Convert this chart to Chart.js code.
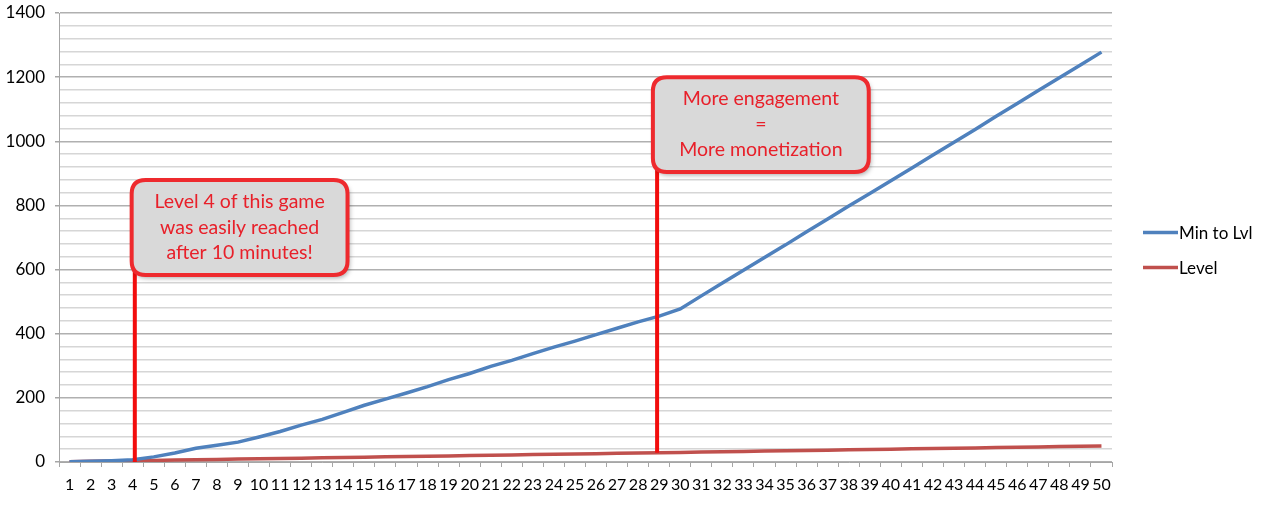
<!DOCTYPE html>
<html>
<head>
<meta charset="utf-8">
<script src="https://cdn.jsdelivr.net/npm/chart.js@4"></script>
<style>
  html, body { margin: 0; padding: 0; background: #fff; }
  #wrap { width: 1263px; height: 505px; }
</style>
</head>
<body>
<div id="wrap"><canvas id="chart"></canvas></div>
<script>
const categories = ['1','2','3','4','5','6','7','8','9','10','11','12','13','14','15','16','17','18','19','20',
  '21','22','23','24','25','26','27','28','29','30','31','32','33','34','35','36','37','38','39','40',
  '41','42','43','44','45','46','47','48','49','50'];

const minToLvl = [1, 2, 4, 7, 16, 28, 43, 52, 62, 78, 95, 115, 133, 155, 177, 196, 215, 235, 257, 276,
  298, 317, 338, 358, 377, 397, 417, 437, 455, 477, 518, 558, 598, 638, 677, 718, 758, 798, 837, 877,
  917, 957, 997, 1037, 1078, 1118, 1158, 1198, 1238, 1278];

const level = [1, 2, 3, 4, 5, 6, 7, 8, 9, 10, 11, 12, 13, 14, 15, 16, 17, 18, 19, 20,
  21, 22, 23, 24, 25, 26, 27, 28, 29, 30, 31, 32, 33, 34, 35, 36, 37, 38, 39, 40,
  41, 42, 43, 44, 45, 46, 47, 48, 49, 50];

const seriesNames = ['Min to Lvl', 'Level'];
const seriesColors = ['#4f81bd', '#c0504d'];

// callouts: vertical marker at a category, box in data units
const note1Text = ['Level 4 of this game', 'was easily reached', 'after 10 minutes!'];
const note2Text = ['More engagement', '=', 'More monetization'];
const notes = [
  { cat: 3.1, lineTo: 0, x0: 2.95, x1: 13.2, y0: 879, y1: 583, text: note1Text },
  { cat: 27.9, lineTo: 29, x0: 27.7, x1: 37.95, y0: 1200, y1: 904, text: note2Text }
];

const FONT = 'Lato, "Open Sans", sans-serif';

function rr(ctx, x, y, w, h, r) {
  ctx.beginPath();
  ctx.moveTo(x + r, y);
  ctx.lineTo(x + w - r, y);
  ctx.quadraticCurveTo(x + w, y, x + w, y + r);
  ctx.lineTo(x + w, y + h - r);
  ctx.quadraticCurveTo(x + w, y + h, x + w - r, y + h);
  ctx.lineTo(x + r, y + h);
  ctx.quadraticCurveTo(x, y + h, x, y + h - r);
  ctx.lineTo(x, y + r);
  ctx.quadraticCurveTo(x, y, x + r, y);
  ctx.closePath();
}

const calloutPlugin = {
  id: 'callouts',
  afterDatasetsDraw(chart) {
    const ctx = chart.ctx;
    const xs = chart.scales.x, ys = chart.scales.y;
    ctx.save();
    notes.forEach(n => {
      const lx = xs.getPixelForValue(n.cat);
      const bx0 = xs.getPixelForValue(n.x0), bx1 = xs.getPixelForValue(n.x1);
      const by0 = ys.getPixelForValue(n.y0), by1 = ys.getPixelForValue(n.y1);
      // marker line
      ctx.strokeStyle = '#f20d0d';
      ctx.lineWidth = 4;
      ctx.beginPath();
      ctx.moveTo(lx, ys.getPixelForValue(n.lineTo));
      ctx.lineTo(lx, by0 + 30);
      ctx.stroke();
      // box with shadow
      ctx.save();
      ctx.shadowColor = 'rgba(0,0,0,0.35)';
      ctx.shadowBlur = 5;
      ctx.shadowOffsetX = 2;
      ctx.shadowOffsetY = 3;
      rr(ctx, bx0, by0, bx1 - bx0, by1 - by0, 14);
      ctx.fillStyle = '#d9d9d9';
      ctx.fill();
      ctx.restore();
      rr(ctx, bx0, by0, bx1 - bx0, by1 - by0, 14);
      ctx.strokeStyle = '#ee2a2e';
      ctx.lineWidth = 4;
      ctx.stroke();
      // text
      ctx.fillStyle = '#e8202a';
      ctx.font = '19.5px ' + FONT;
      ctx.textAlign = 'center';
      ctx.textBaseline = 'middle';
      const cx = (bx0 + bx1) / 2, cy = (by0 + by1) / 2;
      n.text.forEach((t, i) => ctx.fillText(t, cx, cy + (i - 1) * 25.5));
    });
    // legend
    const lx = chart.chartArea.right + 31;
    const lyc = (chart.chartArea.top + chart.chartArea.bottom) / 2;
    ctx.font = '17px ' + FONT;
    ctx.textAlign = 'left';
    ctx.textBaseline = 'middle';
    seriesNames.forEach((name, i) => {
      const y = lyc - 5 + i * 35;
      ctx.strokeStyle = seriesColors[i];
      ctx.lineWidth = 3.5;
      ctx.beginPath();
      ctx.moveTo(lx, y);
      ctx.lineTo(lx + 35, y);
      ctx.stroke();
      ctx.fillStyle = '#000';
      ctx.fillText(name, lx + 36, y + 1);
    });
    ctx.restore();
  }
};

new Chart(document.getElementById('chart'), {
  type: 'line',
  data: {
    labels: categories,
    datasets: [
      { label: seriesNames[0], data: minToLvl, borderColor: seriesColors[0], borderWidth: 3.5, pointRadius: 0, tension: 0 },
      { label: seriesNames[1], data: level, borderColor: seriesColors[1], borderWidth: 3.5, pointRadius: 0, tension: 0 }
    ]
  },
  options: {
    responsive: true,
    maintainAspectRatio: false,
    animation: false,
    layout: { padding: { top: 13, right: 151, left: 0, bottom: 0 } },
    plugins: { legend: { display: false }, tooltip: { enabled: false } },
    scales: {
      x: {
        offset: true,
        grid: { display: true, drawOnChartArea: false, offset: true, tickLength: 5, color: '#a6a6a6' },
        border: { color: '#a6a6a6', width: 1 },
        ticks: { color: '#000', font: { family: FONT, size: 16 }, padding: 8, maxRotation: 0, autoSkip: false },
        afterFit: s => { s.height = 43; s.paddingLeft = 0; s.paddingRight = 0; }
      },
      y: {
        min: 0, max: 1400,
        grid: {
          color: c => (c.tick && c.tick.value % 200 === 0) ? '#b0b0b0' : '#d6d6d6',
          tickColor: c => (c.tick && c.tick.value % 200 === 0) ? '#a6a6a6' : 'rgba(0,0,0,0)',
          tickLength: 4, lineWidth: 1.5
        },
        border: { color: '#a6a6a6', width: 1 },
        ticks: {
          stepSize: 40, autoSkip: false, color: '#000', padding: 10,
          font: { family: FONT, size: 17 },
          callback: v => (v % 200 === 0 ? String(v) : '')
        },
        afterFit: s => { s.width = 59; s.paddingTop = 0; s.paddingBottom = 0; }
      }
    }
  },
  plugins: [calloutPlugin]
});
</script>
</body>
</html>
